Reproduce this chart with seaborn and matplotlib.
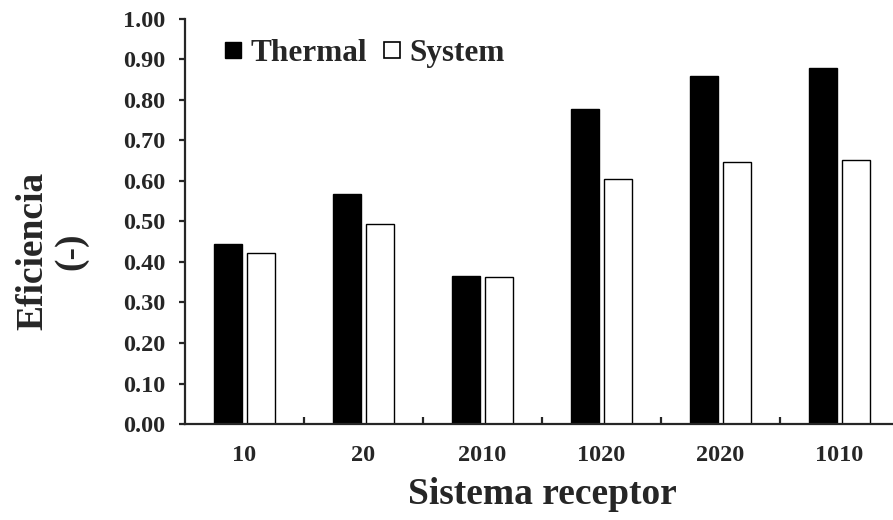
import matplotlib
matplotlib.use("Agg")
import matplotlib.pyplot as plt
from matplotlib.lines import Line2D
import pandas as pd
import seaborn as sns

# values
sistemas = ["10", "20", "2010", "1020", "2020", "1010"]
thermal = [0.444, 0.567, 0.366, 0.777, 0.858, 0.879]
system = [0.421, 0.494, 0.364, 0.604, 0.647, 0.653]

df = pd.DataFrame({
    "Sistema": sistemas * 2,
    "Eficiencia": thermal + system,
    "Tipo": ["Thermal"] * len(sistemas) + ["System"] * len(sistemas),
})

sns.set_style("ticks")
plt.rcParams["font.family"] = ["Liberation Serif", "DejaVu Serif"]
plt.rcParams["font.weight"] = "bold"

fig = plt.figure(figsize=(8.93, 5.2), dpi=100)
ax = fig.add_axes([0.2072, 0.1846, 0.7996, 0.7789])

sns.barplot(data=df, x="Sistema", y="Eficiencia", hue="Tipo", order=sistemas,
            hue_order=["Thermal", "System"], palette=["black", "white"],
            edgecolor="black", linewidth=1.0, width=0.56, gap=0.16,
            legend=False, ax=ax)

ax.set_ylim(0, 1.0)
ax.set_xlim(-0.5, 5.5)
ax.set_yticks([i / 10 for i in range(11)])
ax.set_yticklabels([f"{i / 10:.2f}" for i in range(11)])
ax.set_xticks(range(len(sistemas)))
ax.set_xticklabels(sistemas)
ax.set_xticks([i + 0.5 for i in range(len(sistemas) - 1)], minor=True)

for s in ["top", "right"]:
    ax.spines[s].set_visible(False)
for s in ["left", "bottom"]:
    ax.spines[s].set_linewidth(1.6)

ax.tick_params(axis="y", direction="out", length=4, width=1.6, pad=10,
               labelsize=17.5)
ax.tick_params(axis="x", which="major", length=0, pad=15, labelsize=17.5)
ax.tick_params(axis="x", which="minor", direction="in", length=5, width=1.6)
for t in ax.get_xticklabels() + ax.get_yticklabels():
    t.set_fontweight("bold")

ax.set_xlabel("Sistema receptor", fontsize=27, fontweight="bold", labelpad=8)
ax.set_ylabel("Eficiencia\n(-)", fontsize=27, fontweight="bold",
              linespacing=1.1)
ax.yaxis.set_label_coords(-0.136, 0.427)

handles = [
    Line2D([], [], marker="s", linestyle="", markersize=12,
           markerfacecolor="black", markeredgecolor="black"),
    Line2D([], [], marker="s", linestyle="", markersize=12,
           markerfacecolor="white", markeredgecolor="black",
           markeredgewidth=1.2),
]
ax.legend(handles, ["Thermal", "System"], ncol=2, loc="center left",
          bbox_to_anchor=(0.049, 0.914), frameon=False, borderpad=0,
          borderaxespad=0, handlelength=0.8, handletextpad=0.16,
          columnspacing=0.4, prop={"size": 22.5, "weight": "bold"})

fig.savefig("out.png", dpi=100)
